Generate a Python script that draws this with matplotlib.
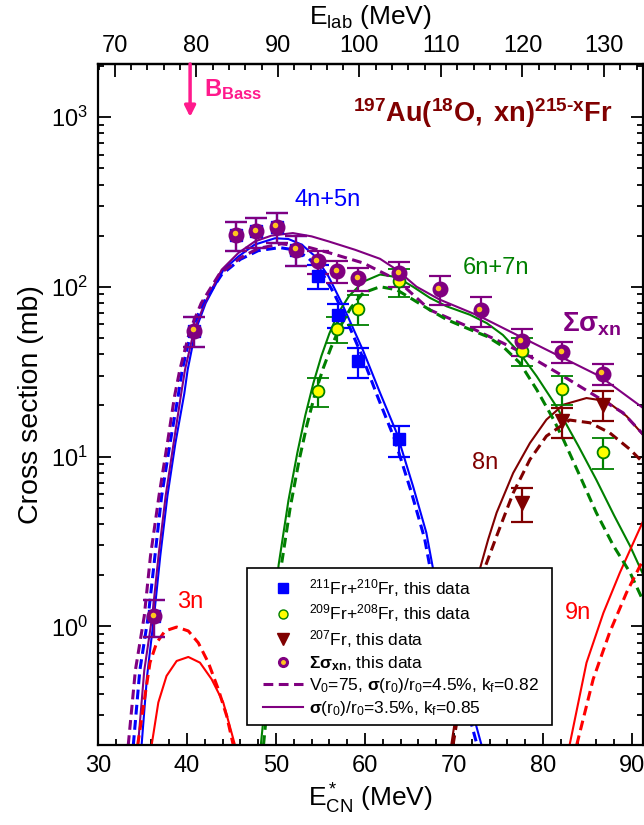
import matplotlib as mpl

mpl.use("Agg")
import matplotlib.pyplot as plt
import matplotlib.transforms as mtransforms
from matplotlib.lines import Line2D
from matplotlib.patches import Rectangle
from matplotlib.ticker import MultipleLocator, LogLocator, NullFormatter

plt.rcParams["font.family"] = ["Liberation Sans", "DejaVu Sans"]
plt.rcParams["mathtext.fontset"] = "custom"
plt.rcParams["mathtext.rm"] = "Liberation Sans"
plt.rcParams["mathtext.it"] = "Liberation Sans:italic"
plt.rcParams["mathtext.bf"] = "Liberation Sans:bold"
plt.rcParams["mathtext.default"] = "regular"

PURPLE = "#800080"
BLUE = "#0000ff"
GREEN = "#008000"
DRED = "#800000"
RED = "#ff0000"
PINK = "#ff1a8c"

# E*_CN = 0.9163 * E_lab - 32.25
CM_FACTOR = 0.9163
Q_SHIFT = 32.25
E_BASS = 40.35
lab_ticks = [70, 80, 90, 100, 110, 120, 130]

# ---- measured cross sections (E*_CN MeV, mb) ----
sum_x = [36.3, 40.8, 45.5, 47.8, 50.1, 52.3, 54.7, 56.9, 59.25, 63.85, 68.4, 73.0, 77.6, 82.2, 86.7]
sum_y = [1.15, 55, 202, 212, 226, 165, 141, 123, 112, 120, 97, 72.6, 47.7, 41.3, 30.8]
sum_err = [0.28, 11, 40, 42, 45, 33, 22, 18, 17, 20, 19, 14.5, 8.5, 5.7, 4.4]

fr45_x = [36.3, 40.8, 45.5, 47.8, 50.1, 52.3, 54.7, 56.95, 59.25, 63.85]
fr45_y = [1.15, 55, 202, 212, 226, 165, 116, 68.5, 36.4, 12.6]
fr45_err = [0.28, 11, 40, 42, 45, 33, 19, 11, 7.3, 2.6]

fr67_x = [54.75, 56.9, 59.25, 63.85, 77.6, 82.2, 86.7]
fr67_y = [24.2, 56.4, 74.3, 107.5, 42, 25, 10.6]
fr67_err = [4.7, 10, 14.5, 20, 7.8, 5, 2.2]

fr8_x = [77.6, 82.2, 86.7]
fr8_y = [5.3, 16.1, 20.2]
fr8_err = [1.2, 3.2, 4.0]

# ---- model curves ----
n45_sol_x = [34.9, 35.5, 36.3, 37.0, 37.8, 38.7, 39.7, 40.08, 40.97, 42.1, 44.1, 45.8, 47.6, 49.9, 51.4,
             52.9, 54.4, 55.9, 57.4, 58.6, 59.8, 61.7, 63.56, 65.4, 66.9, 67.67, 73.1]
n45_sol_y = [0.2, 0.5, 1.15, 2.6, 5.85, 12, 23.5, 32.5, 55.5, 80, 126, 151, 177, 193, 191,
             177, 151, 115, 80, 58, 42, 23.7, 13.8, 6.7, 3.56, 2.16, 0.2]
n45_dsh_x = [33.97, 34.7, 35.65, 36.4, 37.15, 38.1, 39.0, 39.47, 40.5, 41.8, 43.9, 46.0, 48.0, 50.4, 52.0,
             53.5, 55.0, 56.5, 57.7, 58.8, 59.6, 61.5, 63.3, 65.2, 66.7, 67.4, 72.6]
n45_dsh_y = [0.2, 0.55, 1.15, 2.6, 5.85, 12, 22.6, 32.5, 55.5, 80, 118, 145, 163, 170, 165,
             150, 125, 92, 68, 50, 40, 22, 12.8, 6.2, 3.3, 2.1, 0.2]

sum_sol_x = [34.5, 35.2, 36.1, 36.8, 37.6, 38.5, 39.3, 39.78, 40.8, 42.0, 43.9, 45.77, 47.64, 49.5, 51.9,
             54.0, 55.9, 58.9, 61.7, 63.56, 65.8, 68.4, 72.9, 77.4, 81.9, 86.4, 91.27]
sum_sol_y = [0.2, 0.55, 1.15, 2.6, 5.85, 12, 22.6, 32.5, 55.5, 80, 126, 158, 185, 200, 207,
             198, 185, 165, 146, 126, 100, 84, 67, 51, 38.9, 29.7, 19.3]
sum_dsh_x = [33.4, 34.2, 35.2, 35.9, 36.85, 37.8, 38.6, 39.2, 40.34, 41.6, 43.6, 46.0, 48.0, 50.6, 53.6,
             56.07, 59.8, 63.56, 67.3, 72.0, 75.5, 78.5, 82.3, 86.0, 89.0, 91.27]
sum_dsh_y = [0.2, 0.55, 1.15, 2.6, 5.85, 12, 22.6, 32.5, 55.5, 80, 118, 148, 168, 179, 171,
             158, 138, 110, 73, 57, 46.6, 38.9, 29.7, 22.6, 18.1, 13.5]

n67_sol_x = [48.3, 50.3, 51.4, 52.4, 53.3, 54.2, 55.1, 56.0, 57.0, 58.2, 59.8, 61.7, 63.56, 65.4, 67.3,
             69.2, 71.8, 73.7, 75.5, 77.4, 79.3, 81.5, 84.0, 86.0, 88.0, 89.8, 91.3]
n67_sol_y = [0.2, 2.3, 5.5, 10.5, 17.5, 27, 39, 53, 70, 88, 107, 118, 114, 100, 86,
             76.6, 68.4, 61, 52, 40.7, 29.7, 19.8, 11.5, 7.3, 4.5, 2.97, 2.0]
n67_dsh_x = [48.6, 50.5, 51.6, 52.6, 53.5, 54.4, 55.3, 56.2, 57.2, 58.4, 59.8, 61.7, 63.56, 65.4, 67.3,
             69.2, 71.8, 73.7, 75.5, 77.4, 79.3, 81.2, 82.3, 84.2, 86.0, 87.9, 89.8, 91.3]
n67_dsh_y = [0.2, 2.1, 5.0, 9.5, 15.5, 23.5, 33, 44, 58, 75, 92, 100, 96, 84, 73,
             64, 56, 51, 44.5, 35.6, 24.8, 16.5, 12.6, 7.6, 4.67, 3.0, 2.07, 1.4]

n8_sol_x = [69.7, 71.3, 72.9, 73.85, 74.8, 76.66, 78.54, 80.4, 82.3, 84.9, 87.15, 89.4, 91.27]
n8_sol_y = [0.2, 0.7, 2.16, 3.25, 4.67, 8.0, 12.0, 16.5, 20.2, 22.1, 21.2, 17.3, 13.4]
n8_dsh_x = [69.9, 71.6, 73.4, 74.8, 76.66, 78.54, 80.4, 83.0, 85.3, 87.5, 89.8, 91.27]
n8_dsh_y = [0.2, 0.7, 2.16, 3.4, 6.1, 9.6, 13.2, 16.4, 15.8, 13.8, 11.0, 9.2]

n3_sol_x = [36.03, 36.78, 37.7, 38.84, 40.15, 41.46, 42.77, 44.08, 45.39]
n3_sol_y = [0.2, 0.356, 0.51, 0.625, 0.66, 0.611, 0.488, 0.356, 0.2]
n3_dsh_x = [34.46, 35.28, 35.84, 36.59, 37.53, 38.84, 40.15, 41.27, 42.4, 43.52, 44.46, 45.2]
n3_dsh_y = [0.2, 0.389, 0.611, 0.80, 0.939, 0.99, 0.939, 0.80, 0.611, 0.426, 0.297, 0.2]

n9_sol_x = [83.0, 84.9, 86.8, 88.65, 90.5, 91.35]
n9_sol_y = [0.2, 0.61, 1.2, 2.07, 3.4, 4.26]
n9_dsh_x = [83.8, 85.65, 87.5, 89.4, 91.1]
n9_dsh_y = [0.2, 0.488, 0.92, 1.58, 2.37]

legend_labels = [
    r"$^{211}$Fr+$^{210}$Fr, this data",
    r"$^{209}$Fr+$^{208}$Fr, this data",
    r"$^{207}$Fr, this data",
    r"$\mathbf{\Sigma\sigma_{xn}}$, this data",
    r"V$_0$=75, $\mathbf{\sigma}$(r$_0$)/r$_0$=4.5%, k$_f$=0.82",
    r"$\mathbf{\sigma}$(r$_0$)/r$_0$=3.5%, k$_f$=0.85",
]

fig = plt.figure(figsize=(6.44, 8.25), dpi=100)
ax = fig.add_axes([98 / 644, 80 / 825, 545 / 644, 681 / 825])
ax.set_yscale("log")
ax.set_xlim(30, 91.25)
ax.set_ylim(0.2, 2050)

DASH = (3.2, 1.8)
for xs, ys, c in [(n45_sol_x, n45_sol_y, BLUE), (sum_sol_x, sum_sol_y, PURPLE),
                  (n67_sol_x, n67_sol_y, GREEN), (n8_sol_x, n8_sol_y, DRED),
                  (n3_sol_x, n3_sol_y, RED), (n9_sol_x, n9_sol_y, RED)]:
    ax.plot(xs, ys, color=c, lw=1.5, zorder=2)
for xs, ys, c in [(n45_dsh_x, n45_dsh_y, BLUE), (sum_dsh_x, sum_dsh_y, PURPLE),
                  (n67_dsh_x, n67_dsh_y, GREEN), (n8_dsh_x, n8_dsh_y, DRED),
                  (n3_dsh_x, n3_dsh_y, RED), (n9_dsh_x, n9_dsh_y, RED)]:
    ax.plot(xs, ys, color=c, lw=2.2, dashes=DASH, zorder=2)

ebkw = dict(ls="none", capsize=8, elinewidth=1.6, capthick=1.6, zorder=4)
ax.errorbar(fr45_x, fr45_y, yerr=fr45_err, marker="s", ms=8.5, color=BLUE, **ebkw)
ax.errorbar(fr67_x, fr67_y, yerr=fr67_err, marker="o", ms=8.5, mfc="yellow", mec=GREEN,
            mew=1.3, ecolor=GREEN, **ebkw)
ax.errorbar(fr8_x, fr8_y, yerr=fr8_err, marker="v", ms=10.5, color=DRED, **ebkw)
ax.errorbar(sum_x, sum_y, yerr=sum_err, marker="o", ms=10.5, color=PURPLE, **ebkw)
# highlight on the purple spheres
shine = mtransforms.offset_copy(ax.transData, fig=fig, x=-1.0, y=1.0, units="points")
ax.plot(sum_x, sum_y, ls="none", marker="o", ms=4, color="#ffc41f", mew=0,
        transform=shine, zorder=5)

# curve labels
ax.text(52.1, 325, "4n+5n", color=BLUE, fontsize=17, va="center")
ax.text(71.0, 129, "6n+7n", color=GREEN, fontsize=17, va="center")
ax.text(72.0, 9.1, "8n", color=DRED, fontsize=17, va="center")
ax.text(38.85, 1.39, "3n", color=RED, fontsize=17, va="center")
ax.text(82.5, 1.19, "9n", color=RED, fontsize=17, va="center")
ax.text(82.1, 60, r"$\mathbf{\Sigma\sigma_{xn}}$", color=PURPLE, fontsize=20, va="center")
ax.text(87.8, 1060, "$\\mathbf{{}^{197}Au({}^{18}O,\\ xn)^{215\u2010x}Fr}$", color=DRED,
        fontsize=19.5, ha="right", va="center")

# Bass barrier arrow
ax.annotate("", xy=(E_BASS, 1000), xytext=(E_BASS, 2050),
            arrowprops=dict(arrowstyle="-|>", color=PINK, lw=2.5, mutation_scale=16,
                            shrinkA=0, shrinkB=0), annotation_clip=False)
ax.text(41.9, 1440, r"$\mathbf{B_{Bass}}$", color=PINK, fontsize=17, va="center")

ax.set_xlabel(r"E$^*_{CN}$ (MeV)", fontsize=19, labelpad=4)
ax.set_ylabel("Cross section (mb)", fontsize=20.5, labelpad=5)
ax.xaxis.set_major_locator(MultipleLocator(10))
ax.xaxis.set_minor_locator(MultipleLocator(2))
ax.yaxis.set_major_locator(LogLocator(base=10, numticks=10))
ax.yaxis.set_minor_locator(LogLocator(base=10, subs=range(2, 10), numticks=20))
ax.yaxis.set_minor_formatter(NullFormatter())
ax.tick_params(which="both", direction="in", top=False, right=True, width=1.3, labelsize=17)
ax.tick_params(which="major", length=9, pad=7)
ax.tick_params(which="minor", length=4.5)
for s in ax.spines.values():
    s.set_linewidth(1.6)

sec = ax.secondary_xaxis("top", functions=(lambda e: (e + Q_SHIFT) / CM_FACTOR,
                                           lambda l: l * CM_FACTOR - Q_SHIFT))
sec.set_xticks(lab_ticks)
sec.xaxis.set_minor_locator(MultipleLocator(2))
sec.tick_params(which="both", direction="in", width=1.3, labelsize=17)
sec.tick_params(which="major", length=9, pad=5)
sec.tick_params(which="minor", length=4.5)
sec.spines["top"].set_linewidth(1.6)
sec.set_xlabel(r"E$_{lab}$ (MeV)", fontsize=19, labelpad=8)

# legend: own frame so the entries can sit indented as in the original box
ax.add_patch(Rectangle((0.273, 0.029), 0.56, 0.231, transform=ax.transAxes,
                       facecolor="white", edgecolor="black", lw=1.2, zorder=9))
handles = [
    Line2D([], [], ls="none", marker="s", ms=6.5, color=BLUE),
    Line2D([], [], ls="none", marker="o", ms=6.5, mfc="yellow", mec=GREEN, mew=1),
    Line2D([], [], ls="none", marker="v", ms=8, color=DRED),
    (Line2D([], [], ls="none", marker="o", ms=7, color=PURPLE),
     Line2D([], [], ls="none", marker="o", ms=2.5, color="#ffc41f")),
    Line2D([], [], color=PURPLE, lw=2.2, dashes=DASH),
    Line2D([], [], color=PURPLE, lw=1.5),
]
leg = ax.legend(handles, legend_labels, loc="upper left", bbox_to_anchor=(0.302, 0.247),
                fontsize=12.5, frameon=False, handlelength=2.3, handletextpad=0.35,
                labelspacing=0.22, borderpad=0, borderaxespad=0, numpoints=1)
leg.set_zorder(10)

fig.savefig("out.png", dpi=100)
